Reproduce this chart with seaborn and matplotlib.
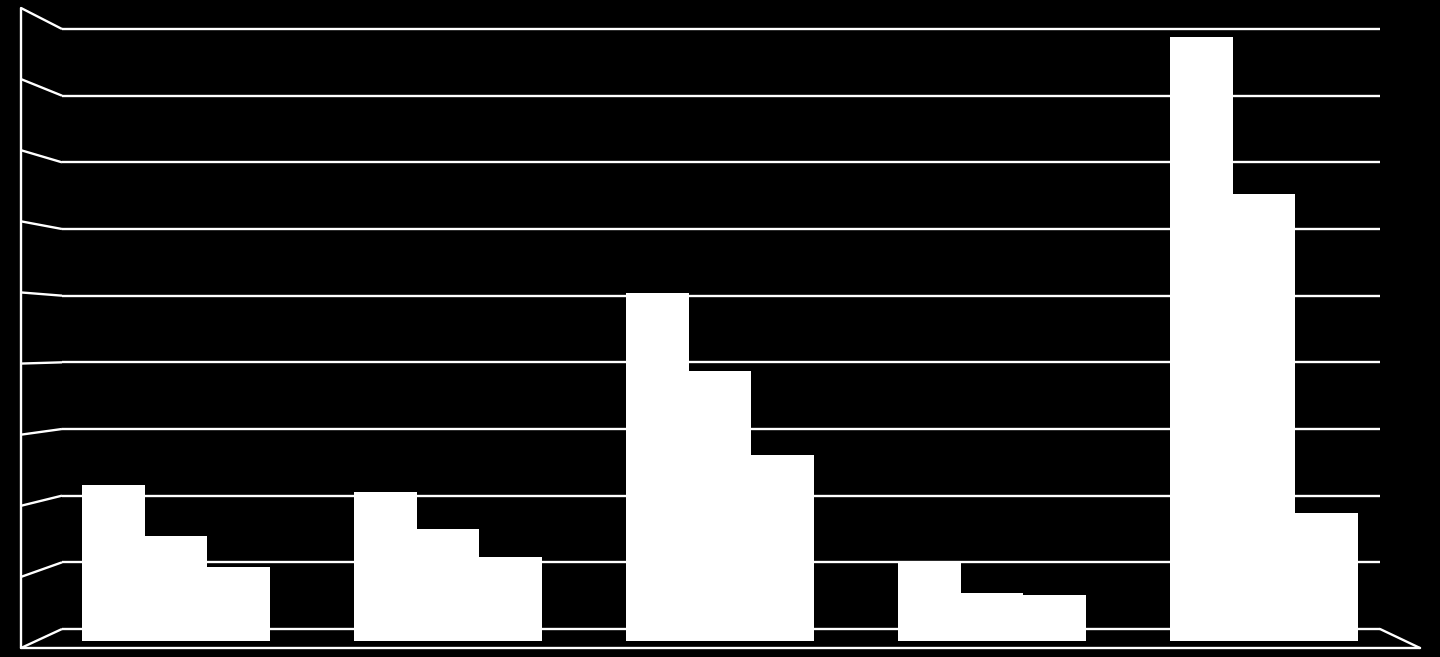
import numpy as np
import pandas as pd
import matplotlib
matplotlib.use("Agg")
import matplotlib.pyplot as plt
import seaborn as sns

# ---- data ----
categories = ["A", "B", "C", "D", "E"]
series_names = ["Series 1", "Series 2", "Series 3"]
series1 = [22.5, 21.5, 50.1, 11.4, 87.0]
series2 = [15.1, 16.1, 38.9, 6.9, 64.4]
series3 = [10.7, 12.1, 26.8, 6.6, 18.4]
grid_values = list(range(0, 91, 10))

df = pd.DataFrame({
    "category": categories * 3,
    "series": [series_names[0]] * 5 + [series_names[1]] * 5 + [series_names[2]] * 5,
    "value": series1 + series2 + series3,
})

sns.set_theme(style="white")
W, H = 1440, 657
fig = plt.figure(figsize=(W / 100, H / 100), dpi=100, facecolor="black")

# ---- background frame (pseudo-3D walls) in pixel coordinates ----
bg = fig.add_axes([0, 0, 1, 1], facecolor="black")
bg.set_xlim(0, W)
bg.set_ylim(H, 0)
bg.axis("off")

vmax = grid_values[-1]
back_top, back_floor = 29, 629
front_top, front_floor = 8, 648
x_front_left, x_back_left = 21, 62
x_back_right, x_front_right = 1380, 1420
lw = 1.7
for v in grid_values:
    yb = back_floor - v / vmax * (back_floor - back_top)
    yf = front_floor - v / vmax * (front_floor - front_top)
    bg.plot([x_front_left, x_back_left], [yf, yb], color="white", lw=lw, solid_capstyle="butt")
    bg.plot([x_back_left, x_back_right], [yb, yb], color="white", lw=lw, solid_capstyle="butt")
bg.plot([x_front_left, x_front_left], [front_top, front_floor], color="white", lw=lw)
bg.plot([x_front_left, x_front_right], [front_floor, front_floor], color="white", lw=lw)
bg.plot([x_back_right, x_front_right], [back_floor, front_floor], color="white", lw=lw)

# ---- bars ----
left_px, right_px = 40, 1400
top_px, bottom_px = 16, 641
ax = fig.add_axes([left_px / W, (H - bottom_px) / H, (right_px - left_px) / W, (bottom_px - top_px) / H])
ax.patch.set_alpha(0)
sns.barplot(data=df, x="category", y="value", hue="series", order=categories,
            hue_order=series_names, palette=["white"] * 3, width=0.69, gap=0,
            linewidth=0, edgecolor="white", saturation=1, legend=False, ax=ax)
ax.set_xlim(-0.5, len(categories) - 0.5)
ax.set_ylim(0, vmax)
ax.set_xlabel("")
ax.set_ylabel("")
ax.set_xticks([])
ax.set_yticks([])
for s in ax.spines.values():
    s.set_visible(False)

fig.savefig("out.png", dpi=100, facecolor="black")
